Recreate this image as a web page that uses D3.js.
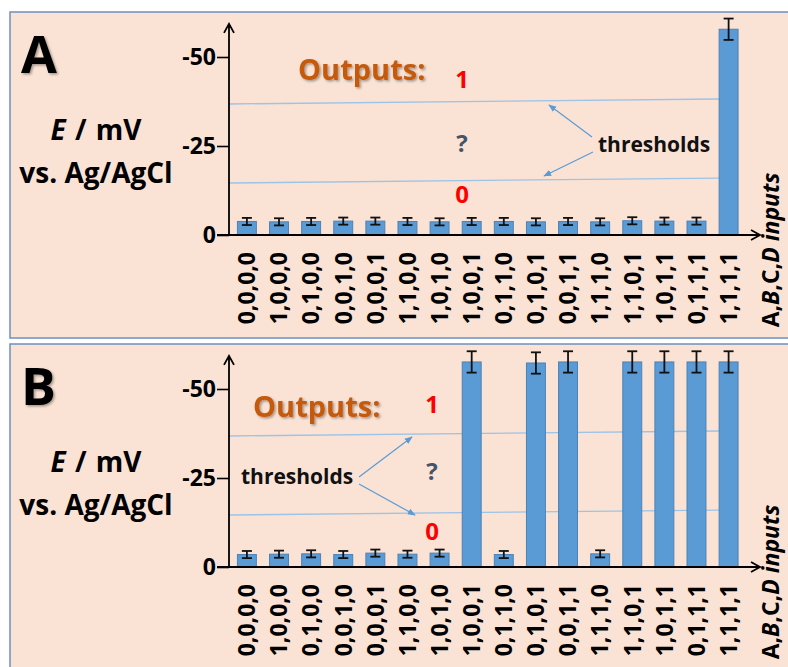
<!doctype html>
<html>
<head>
<meta charset="utf-8">
<script src="https://cdn.jsdelivr.net/npm/d3@7"></script>
<style>
  body { margin: 0; background: #fff; }
  svg { display: block; font-family: 'Open Sans', Lato, sans-serif; }
</style>
</head>
<body>
<svg id="chart"></svg>
<script>
// inputs A,B,C,D for each bar
const inputs = ["0,0,0,0","1,0,0,0","0,1,0,0","0,0,1,0","0,0,0,1","1,1,0,0","1,0,1,0","1,0,0,1",
                "0,1,1,0","0,1,0,1","0,0,1,1","1,1,1,0","1,1,0,1","1,0,1,1","0,1,1,1","1,1,1,1"]

// E / mV for panel A and B, with error
const valuesA = [-3.8,-3.7,-3.8,-3.9,-3.9,-3.8,-3.7,-3.8,-3.8,-3.7,-3.8,-3.7,-4.0,-3.9,-3.9,-57.8]
const errorsA = [1.0,1.0,1.0,1.0,1.0,1.0,1.0,1.0,1.0,1.0,1.0,1.0,1.0,1.0,1.0,3.0]
const valuesB = [-3.5,-3.6,-3.7,-3.5,-3.9,-3.6,-3.9,-57.6,-3.5,-57.3,-57.6,-3.7,-57.6,-57.6,-57.6,-57.6]
const errorsB = [1.0,1.0,1.0,1.0,1.0,1.0,1.0,3.0,1.0,3.0,3.0,1.0,3.0,3.0,3.0,3.0]

const yTicks = [0, -25, -50]
// threshold lines (value at left end, value at right end)
const upperThreshold = [-36.8, -38.2]
const lowerThreshold = [-14.6, -16.0]

const W = 788, H = 667
const svg = d3.select("#chart").attr("width", W).attr("height", H)

const defs = svg.append("defs")
const shadow = defs.append("filter").attr("id", "shadow")
  .attr("x", "-20%").attr("y", "-20%").attr("width", "150%").attr("height", "150%")
shadow.append("feDropShadow").attr("dx", 1.5).attr("dy", 1.5).attr("stdDeviation", 1.2)
  .attr("flood-color", "#000").attr("flood-opacity", 0.35)
defs.append("marker").attr("id", "tri")
  .attr("viewBox", "0 0 10 10").attr("refX", 9).attr("refY", 5)
  .attr("markerWidth", 8).attr("markerHeight", 8).attr("orient", "auto-start-reverse")
  .attr("markerUnits", "userSpaceOnUse")
  .append("path").attr("d", "M0,1 L10,5 L0,9 Z").attr("fill", "#5b9bd5")

const x = d3.scaleBand().domain(inputs).range([231, 744.5]).paddingInner(0.41).paddingOuter(0.2)
const y = d3.scaleLinear().domain([0, -50]).range([235, 57])
const axisX0 = 229

const panels = [
  { label: "A", off: 0, values: valuesA, errors: errorsA,
    outputs: [298, 80], one: [462, 88], q: [462, 152], zero: [462, 203],
    thr: [598, 152],
    arrows: [[[592, 137], [549, 105]], [[593, 152], [544, 176]]] },
  { label: "B", off: 332, values: valuesB, errors: errorsB,
    outputs: [253, 85], one: [432, 81], q: [432, 148], zero: [432, 208],
    thr: [241, 152],
    arrows: [[[359, 145], [412, 105]], [[359, 152], [415, 183]]] }
]

panels.forEach(p => {
  const g = svg.append("g").attr("transform", "translate(0," + p.off + ")")

  g.append("rect")
    .attr("x", 10).attr("y", 12).attr("width", 790).attr("height", 326)
    .attr("fill", "#fae3d5").attr("stroke", "#6c90c2").attr("stroke-width", 1.5)

  g.append("text").attr("x", 21).attr("y", 73)
    .attr("font-size", 52).attr("font-weight", "bold").attr("filter", "url(#shadow)")
    .text(p.label)

  const yl = g.append("text").attr("text-anchor", "middle").attr("font-size", 28).attr("font-weight", "bold")
    .attr("word-spacing", 2)
  yl.append("tspan").attr("x", 96).attr("y", 140).attr("font-style", "italic").text("E")
  yl.append("tspan").text(" / mV")
  g.append("text").attr("text-anchor", "middle").attr("font-size", 28).attr("font-weight", "bold")
    .attr("x", 96).attr("y", 183).text("vs. Ag/AgCl")

  // threshold lines
  const xr = x(inputs[inputs.length - 1])
  ;[upperThreshold, lowerThreshold].forEach(t => {
    g.append("line")
      .attr("x1", axisX0).attr("y1", y(t[0]))
      .attr("x2", xr).attr("y2", y(t[1]))
      .attr("stroke", "#9dc3e6").attr("stroke-width", 1.3)
  })

  // bars
  g.selectAll(".bar").data(p.values).enter().append("rect")
    .attr("class", "bar")
    .attr("x", (d, i) => x(inputs[i]))
    .attr("y", d => y(d))
    .attr("width", x.bandwidth())
    .attr("height", d => y(0) - y(d))
    .attr("fill", "#5b9bd5").attr("stroke", "#4a82b8").attr("stroke-width", 1)

  // error bars
  const eb = g.selectAll(".err").data(p.values).enter().append("g").attr("class", "err")
    .attr("stroke", "#111").attr("stroke-width", 1.8)
  const cx = i => x(inputs[i]) + x.bandwidth() / 2
  eb.append("line").attr("x1", (d, i) => cx(i)).attr("x2", (d, i) => cx(i))
    .attr("y1", (d, i) => y(d - p.errors[i])).attr("y2", (d, i) => y(d + p.errors[i]))
  eb.append("line").attr("x1", (d, i) => cx(i) - 5).attr("x2", (d, i) => cx(i) + 5)
    .attr("y1", (d, i) => y(d - p.errors[i])).attr("y2", (d, i) => y(d - p.errors[i]))
  eb.append("line").attr("x1", (d, i) => cx(i) - 5).attr("x2", (d, i) => cx(i) + 5)
    .attr("y1", (d, i) => y(d + p.errors[i])).attr("y2", (d, i) => y(d + p.errors[i]))

  // y axis
  const ya = g.append("g").attr("transform", "translate(" + axisX0 + ",0)")
    .call(d3.axisLeft(y).tickValues(yTicks).tickSize(12).tickPadding(1).tickFormat(d => String(d)))
  ya.select(".domain").remove()
  ya.selectAll(".tick line").attr("stroke", "#000").attr("stroke-width", 1.6)
  ya.selectAll(".tick text").attr("font-size", 23).attr("font-weight", "bold").attr("fill", "#000")
    .attr("font-family", "'Open Sans', sans-serif")

  // x axis
  const xa = g.append("g").attr("transform", "translate(0," + y(0) + ")")
    .call(d3.axisBottom(x).tickSize(0).tickPadding(0))
  xa.select(".domain").remove()
  xa.selectAll(".tick text")
    .attr("transform", "rotate(-90)")
    .attr("x", -17).attr("y", 0).attr("dy", "0.36em")
    .attr("text-anchor", "end")
    .attr("font-size", 23).attr("font-weight", "bold")
    .attr("fill", "#000").attr("font-family", "'Open Sans', sans-serif")

  // axis lines with open arrows
  g.append("path")
    .attr("d", "M" + axisX0 + "," + y(0) + " V" + y(-59.3) +
               " M" + (axisX0 - 5) + "," + (y(-59.3) + 9) + " L" + axisX0 + "," + y(-59.3) + " L" + (axisX0 + 5) + "," + (y(-59.3) + 9))
    .attr("fill", "none").attr("stroke", "#000").attr("stroke-width", 1.8)
  g.append("path")
    .attr("d", "M" + (axisX0 - 12) + "," + y(0) + " H760" +
               " M751," + (y(0) - 5) + " L760," + y(0) + " L751," + (y(0) + 5))
    .attr("fill", "none").attr("stroke", "#000").attr("stroke-width", 1.8)

  // x axis title
  const xt = g.append("text").attr("transform", "translate(779,250) rotate(-90)")
    .attr("font-size", 23).attr("font-weight", "bold").attr("text-anchor", "middle")
  xt.append("tspan").text("A,")
  xt.append("tspan").attr("font-style", "italic").text("B")
  xt.append("tspan").text(",C,")
  xt.append("tspan").attr("font-style", "italic").text("D inputs")

  // annotations
  g.append("text").attr("x", p.outputs[0]).attr("y", p.outputs[1])
    .attr("font-size", 29).attr("font-weight", "bold").attr("fill", "#c55a11")
    .attr("filter", "url(#shadow)").text("Outputs:")
  g.append("text").attr("x", p.one[0]).attr("y", p.one[1]).attr("text-anchor", "middle")
    .attr("font-size", 24).attr("font-weight", "bold").attr("fill", "#ff0000").text("1")
  g.append("text").attr("x", p.zero[0]).attr("y", p.zero[1]).attr("text-anchor", "middle")
    .attr("font-size", 24).attr("font-weight", "bold").attr("fill", "#ff0000").text("0")
  g.append("text").attr("x", p.q[0]).attr("y", p.q[1]).attr("text-anchor", "middle")
    .attr("font-size", 24).attr("font-weight", "bold").attr("fill", "#44546a").text("?")
  g.append("text").attr("x", p.thr[0]).attr("y", p.thr[1])
    .attr("font-size", 21).attr("font-weight", "bold").attr("fill", "#111").text("thresholds")
  p.arrows.forEach(a => {
    g.append("line")
      .attr("x1", a[0][0]).attr("y1", a[0][1]).attr("x2", a[1][0]).attr("y2", a[1][1])
      .attr("stroke", "#5b9bd5").attr("stroke-width", 1.2)
      .attr("marker-end", "url(#tri)")
  })
})
</script>
</body>
</html>
